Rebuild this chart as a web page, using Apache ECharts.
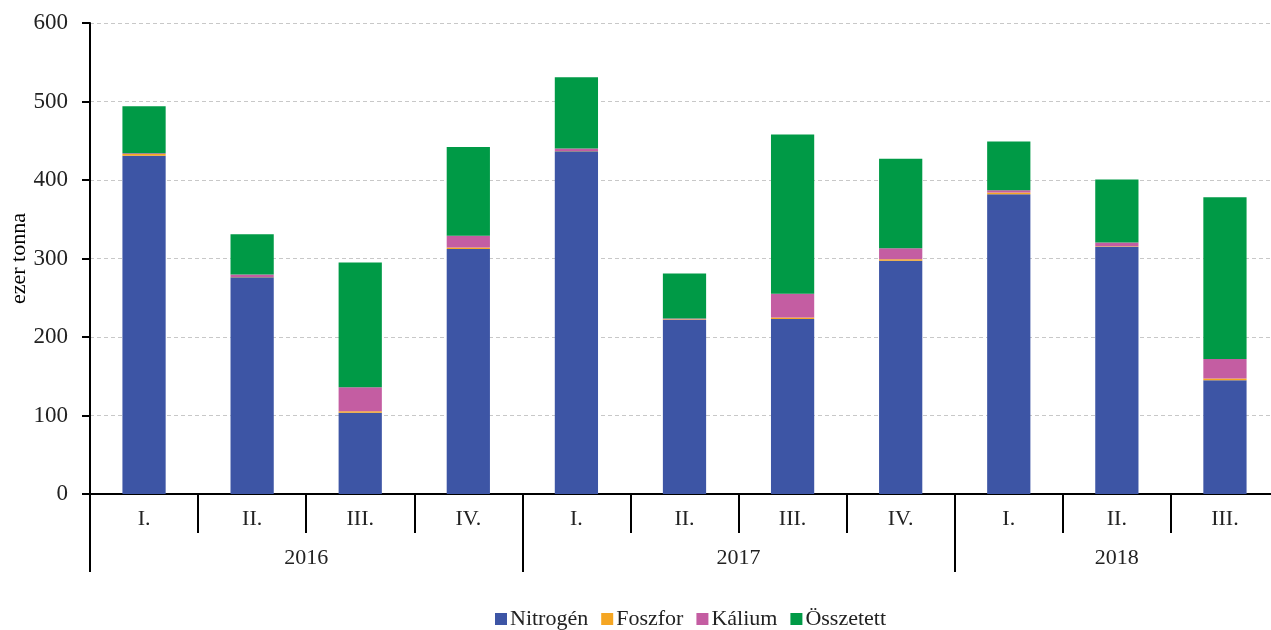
<!DOCTYPE html>
<html>
<head>
<meta charset="utf-8">
<script src="https://cdn.jsdelivr.net/npm/echarts@6/dist/echarts.min.js"></script>
<style>
  html, body { margin: 0; padding: 0; background: #fff; }
  #chart { width: 1271px; height: 630px; }
</style>
</head>
<body>
<div id="chart"></div>
<script>
// quarters and years (two-level category axis)
const quarters = ['I.', 'II.', 'III.', 'IV.', 'I.', 'II.', 'III.', 'IV.', 'I.', 'II.', 'III.']
const years = ['2016', '2017', '2018']
const yearCenters = [2, 6, 9.5]      // middle of each year's block, in category units
const yearBounds = [0, 4, 8, 11]     // separators between years

// ezer tonna
const nitrogen  = [431, 276, 103.5, 312, 436.5, 222, 223, 297, 382, 315, 145]
const foszfor   = [2, 0.5, 2, 2, 0.5, 0.5, 2, 2, 2, 0.5, 2]
const kalium    = [1, 3, 30.5, 15, 3, 1, 30, 14, 3, 5, 25]
const osszetett = [60, 51.5, 159, 113, 91, 57.5, 203, 114, 62, 80, 206]

const yTicks = [0, 100, 200, 300, 400, 500, 600]

const font = 'Liberation Serif'
const chart = echarts.init(document.getElementById('chart'))

function barSeries(name, data, color) {
  return {
    name: name,
    type: 'bar',
    stack: 'total',
    barWidth: '40%',
    data: data,
    itemStyle: { color: color }
  }
}

chart.setOption({
  animation: false,
  textStyle: { fontFamily: font },
  // grid runs a little past the right edge, like the cropped original
  grid: { left: 90, top: 23, width: 1189, height: 471, outerBoundsMode: 'none', containLabel: false },
  legend: {
    top: 603,
    left: 490,
    itemWidth: 12,
    itemHeight: 12,
    itemGap: 13,
    icon: 'rect',
    textStyle: { fontFamily: font, fontSize: 22, color: '#222', padding: [0, 0, 0, -2] },
    data: ['Nitrogén', 'Foszfor', 'Kálium', 'Összetett']
  },
  xAxis: [
    {
      type: 'category',
      data: quarters,
      position: 'bottom',
      axisLine: { lineStyle: { color: '#000', width: 2 } },
      axisTick: { show: true, length: 39, interval: 0, lineStyle: { color: '#000', width: 2 } },
      axisLabel: { interval: 0, margin: 14, fontSize: 22, color: '#222', fontFamily: font },
      splitLine: { show: false }
    },
    {
      type: 'value',
      min: 0,
      max: 11,
      position: 'bottom',
      axisLine: { show: false },
      axisTick: {
        show: true,
        length: 78,
        customValues: yearBounds,
        lineStyle: { color: '#000', width: 2 }
      },
      axisLabel: {
        customValues: yearCenters,
        margin: 53,
        fontSize: 22,
        color: '#222',
        fontFamily: font,
        formatter: function (v) {
          const i = yearCenters.indexOf(v)
          return i >= 0 ? years[i] : ''
        }
      },
      splitLine: { show: false }
    }
  ],
  yAxis: {
    type: 'value',
    min: yTicks[0],
    max: yTicks[yTicks.length - 1],
    interval: 100,
    name: 'ezer tonna',
    nameLocation: 'middle',
    nameGap: 60,
    nameMoveOverlap: false,
    nameTextStyle: { fontFamily: font, fontSize: 22, color: '#000' },
    axisLine: { show: true, lineStyle: { color: '#000', width: 2 } },
    axisTick: { show: true, inside: false, length: 8, lineStyle: { color: '#000', width: 2 } },
    axisLabel: { margin: 22, fontSize: 23, color: '#222', fontFamily: font },
    splitLine: { show: true, lineStyle: { color: '#c8c8c8', type: [4, 3], width: 1 } }
  },
  series: [
    barSeries('Nitrogén', nitrogen, '#3d55a5'),
    barSeries('Foszfor', foszfor, '#f5a623'),
    barSeries('Kálium', kalium, '#c45da2'),
    barSeries('Összetett', osszetett, '#009a46')
  ]
})
</script>
</body>
</html>
